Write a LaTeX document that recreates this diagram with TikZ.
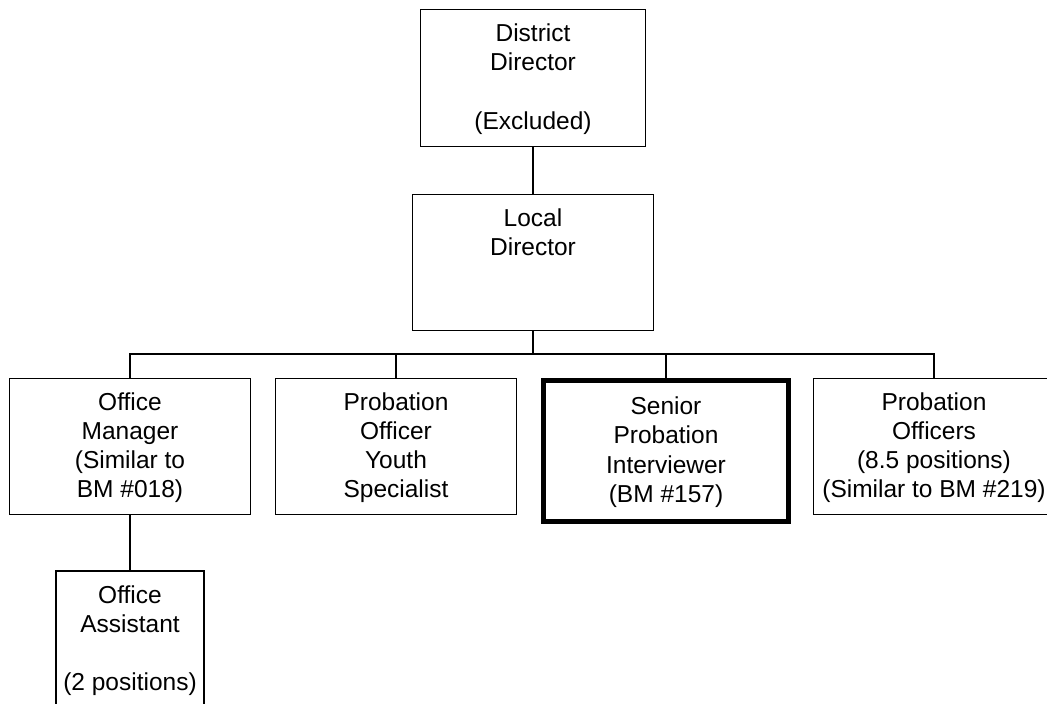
\documentclass[tikz,border=0pt]{standalone}
\usepackage{fontspec}
\setmainfont{Liberation Sans}
\newcommand\ls{\rule[-7.15pt]{0pt}{29.3pt}}
\begin{document}
\begin{tikzpicture}[x=1pt,y=1pt,
  box/.style={draw, line width=1.8pt, rectangle, inner sep=0pt, align=center,
    minimum width=241pt, minimum height=136pt,
    font=\fontsize{24.5}{29.3}\selectfont},
  keybox/.style={box, line width=5pt, minimum width=245pt, minimum height=141pt},
  conn/.style={line width=1.8pt}]
\useasboundingbox (0,0) rectangle (1047,-704);
\clip (0,0) rectangle (1047,-704);
\node[box, minimum width=225pt, minimum height=137pt] (dd) at (533,-78)
  {\ls District\\\ls Director\\\ls\\\ls (Excluded)};
\node[box] (ld) at (533,-262.5) {\ls Local\\\ls Director\\\ls\\\ls};
\node[box] (om) at (130,-446.5) {\ls Office\\\ls Manager\\\ls (Similar to\\\ls BM \#018)};
\node[box] (po) at (396,-446.5) {\ls Probation\\\ls Officer\\\ls Youth\\\ls Specialist};
\node[keybox] (spi) at (666,-451) {\ls Senior\\\ls Probation\\\ls Interviewer\\\ls (BM \#157)};
\node[box] (pos) at (934,-446.5) {\ls Probation\\\ls Officers\\\ls (8.5 positions)\\\ls (Similar to BM \#219)};
\node[box, minimum width=148pt, minimum height=137pt] (oa) at (130,-639.5)
  {\ls Office\\\ls Assistant\\\ls\\\ls (2 positions)};
\coordinate (bus) at (533,-354);
\draw[conn] (dd.south) -- (ld.north);
\draw[conn] (ld.south) -- (bus);
\draw[conn] (om.north) -- (om.north |- bus) -- (pos.north |- bus) -- (pos.north);
\draw[conn] (po.north) -- (po.north |- bus);
\draw[conn] (spi.north) -- (spi.north |- bus);
\draw[conn] (om.south) -- (oa.north);
\end{tikzpicture}
\end{document}
